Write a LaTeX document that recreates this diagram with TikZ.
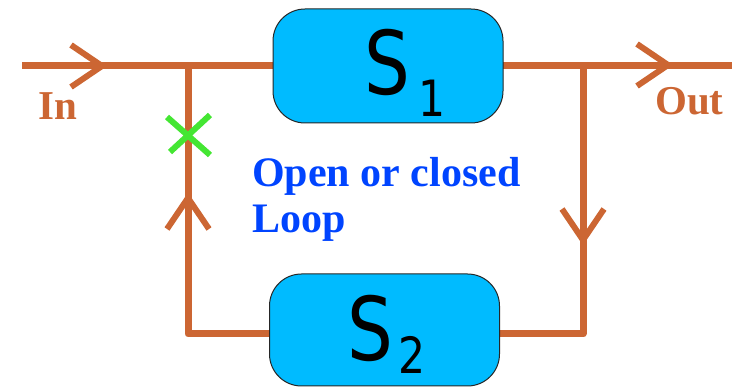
\documentclass[tikz,border=0pt]{standalone}
\usepackage{fontspec}
\setmainfont{Liberation Serif}
\newfontfamily\handfont{DejaVu Sans}
\usetikzlibrary{calc}

\definecolor{wireorange}{RGB}{204,102,51}
\definecolor{boxcyan}{RGB}{0,187,255}
\definecolor{markgreen}{RGB}{68,230,51}
\definecolor{textblue}{RGB}{0,68,255}

\tikzset{
  wire/.style={draw=wireorange, line width=7pt, line join=round},
  chevstroke/.style={draw=wireorange, line width=6pt},
  sysbox/.style={draw=black!85, line width=1pt, fill=boxcyan, rounded corners=32pt,
    minimum width=230pt, inner sep=0pt},
  bigS/.style={font=\handfont\fontsize{88}{88}\selectfont, inner sep=0pt, xscale=0.82},
  subidx/.style={font=\handfont\fontsize{50}{50}\selectfont, inner sep=0pt, xscale=0.85},
  signal/.style={text=wireorange, font=\bfseries\fontsize{41}{41}\selectfont, inner sep=0pt, anchor=base west},
  note/.style={text=textblue, font=\bfseries\fontsize{42}{46}\selectfont, inner sep=0pt, anchor=base west},
  chev/.pic={\draw[chevstroke] (-31,-21) -- (0,0) -- (-31,21);}
}

\begin{document}
\begin{tikzpicture}[x=1pt, y=-1pt]
  \useasboundingbox (0,0) rectangle (732,387);

  % signal path junctions
  \coordinate (inL)  at (22,66);
  \coordinate (jL)   at (188,66);
  \coordinate (jR)   at (583,66);
  \coordinate (outR) at (732,66);
  \coordinate (bL)   at (188,334);
  \coordinate (bR)   at (583,334);

  % forward path and feedback loop
  \draw[wire] (inL) -- (jL) -- (jR) -- (outR);
  \draw[wire] (jR) -- (bR) -- (bL) -- (jL);

  % the two systems
  \node[sysbox, minimum height=114pt] (s1) at (388,66) {};
  \node[sysbox, minimum height=112pt] (s2) at (384.5,330) {};

  \node[bigS] (s1S) at (387,62) {S};
  \node[subidx] (s1i) at (432,98) {1};
  \node[bigS] (s2S) at (370,328) {S};
  \node[subidx] (s2i) at (412,355) {2};

  % direction marks
  \pic at (102,66) {chev};
  \pic at (668,65) {chev};
  \pic[rotate=-90] at (583,240) {chev};
  \pic[rotate=90] at (188,198) {chev};

  % break in the loop
  \coordinate (brk) at (188,135);
  \draw[draw=markgreen, line width=6pt] ($(brk)+(-21,-18)$) -- ($(brk)+(22,20)$);
  \draw[draw=markgreen, line width=6pt] ($(brk)+(22,-20)$) -- ($(brk)+(-18,17)$);

  % labels
  \node[signal] (lin)  at (38,120) {In};
  \node[signal] (lout) at (655,115) {Out};
  \node[note] (n1) at (252,187) {Open or closed};
  \node[note] (n2) at (252,233) {Loop};
\end{tikzpicture}
\end{document}
